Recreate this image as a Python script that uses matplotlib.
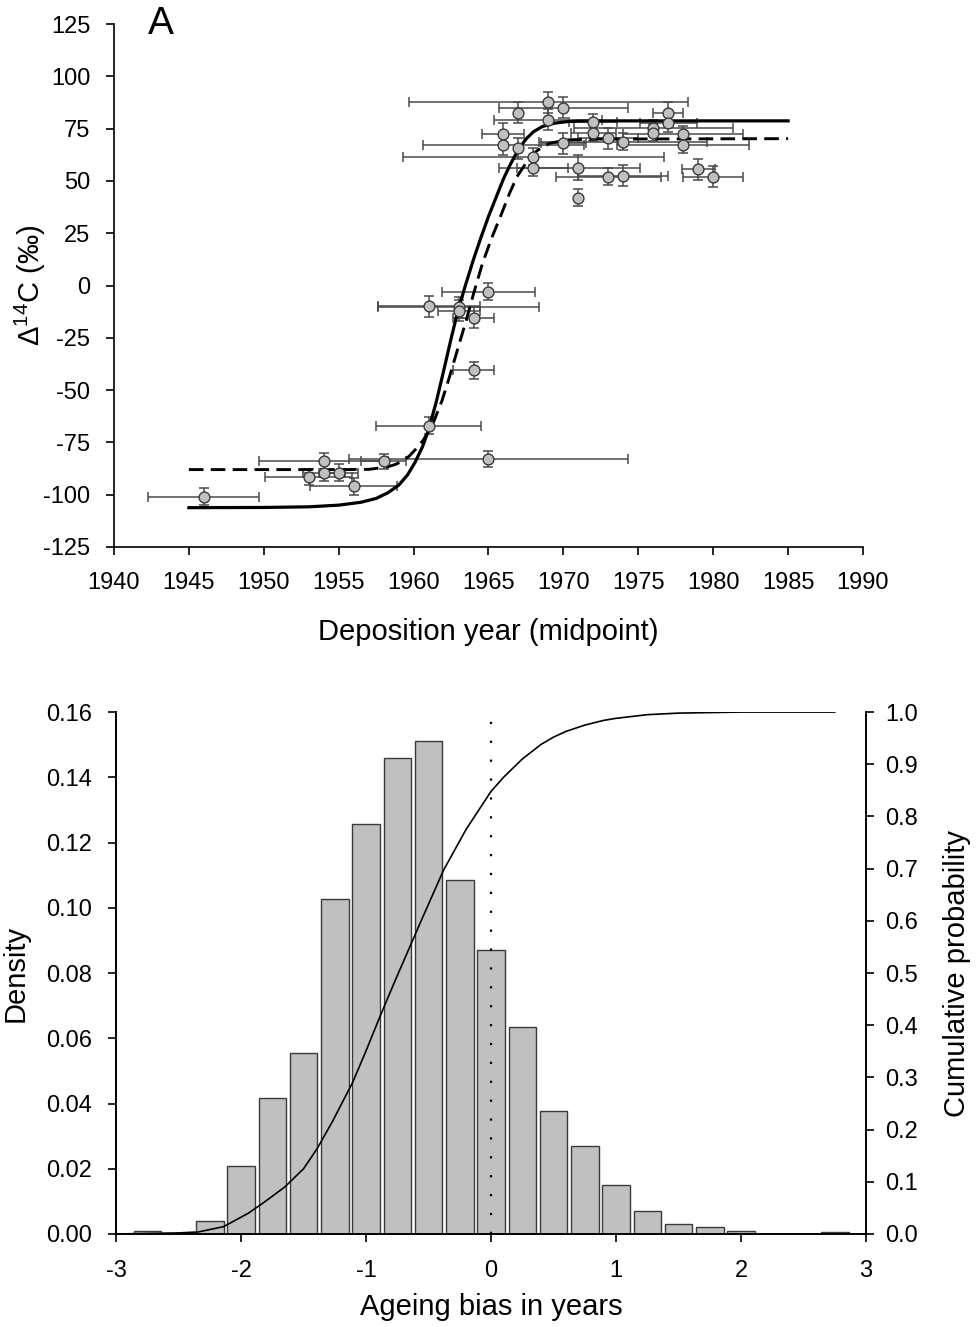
import numpy as np
import matplotlib
matplotlib.use('Agg')
import matplotlib.pyplot as plt

plt.rcParams['font.family'] = ['Liberation Sans', 'DejaVu Sans']
plt.rcParams['mathtext.fontset'] = 'custom'
plt.rcParams['mathtext.rm'] = 'Liberation Sans'
plt.rcParams['axes.unicode_minus'] = False

# --- Panel A: bomb-radiocarbon data (year, delta14C, x error, y error)
jaar = [1946, 1953, 1954, 1955, 1954, 1958, 1956, 1961, 1965, 1964, 1964, 1961, 1963, 1963, 1965,
        1969, 1970, 1967, 1969, 1972, 1977, 1977, 1976, 1976, 1966, 1972, 1978, 1973, 1974,
        1970, 1978, 1966, 1967, 1968, 1968, 1971, 1973, 1974, 1979, 1980, 1971]
d14c = [-101, -91.5, -89.5, -89.5, -84, -84, -96, -67, -83, -40.5, -15.5, -10, -10.5, -12, -3,
        87.5, 85, 82.7, 79.2, 78, 82.5, 77.5, 75.3, 73, 72.5, 73, 72.3, 70.4, 68.7,
        68, 67.2, 67.2, 65.6, 61.6, 56.3, 56.3, 52, 52.5, 55.5, 52, 42]
jaar_err = [3.7, 2.9, 1.4, 1.3, 4.3, 1.5, 2.9, 3.5, 9.3, 1.4, 1.4, 3.4, 5.4, 1.4, 3.1,
            9.3, 4.3, 0, 3.6, 1.6, 1.0, 1.9, 5.3, 0, 1.4, 1.5, 4.0, 2.0, 5.6,
            1.5, 4.4, 5.4, 0, 8.7, 2.3, 4.1, 3.5, 3.0, 1.1, 2.0, 0]
d14c_err = [4, 4, 4, 4, 4, 3.5, 4, 4, 4, 4, 5, 5, 5, 5, 4,
            5, 5, 5, 5, 4, 5, 4, 4, 4, 5, 4, 4, 5, 4,
            5, 4, 5, 5, 4, 4, 6, 4, 5, 5, 5, 4]

# fitted curves
fit1_x = [1945, 1950, 1953, 1955, 1956.5, 1957.5, 1958.3, 1959, 1959.6, 1960.1, 1960.6, 1961,
          1961.5, 1962, 1962.5, 1963, 1963.5, 1964, 1964.5, 1965, 1965.5, 1966, 1966.5, 1967,
          1967.5, 1968, 1968.6, 1969.4, 1970.2, 1971, 1973, 1985]
fit1_y = [-106.2, -106.1, -105.8, -105, -103.6, -101.8, -99, -95.5, -90.5, -84.5, -77, -69,
          -56, -41, -25.5, -11, 1, 12.5, 23, 33, 42, 51, 58.5, 65,
          70, 73.5, 76, 77.6, 78.3, 78.6, 78.7, 78.7]
fit2_x = [1945, 1955, 1957, 1958.2, 1958.8, 1959.3, 1959.7, 1960.1, 1960.65, 1961.3, 1961.9,
          1962.4, 1963, 1963.5, 1964, 1964.6, 1965.2, 1965.8, 1966.4, 1966.9, 1967.5, 1968,
          1968.6, 1969.1, 1970.2, 1972, 1985]
fit2_y = [-88, -88, -87.9, -86.8, -85.5, -83.8, -81.6, -78.6, -73.9, -65.9, -55,
          -43.6, -29, -17, -4, 10.6, 22.5, 33, 44, 52, 58.5, 63.2,
          66.2, 68, 69.6, 70, 70.2]

# --- Panel B: ageing bias histogram + cumulative probability
bias = [-2.75, -2.5, -2.25, -2.0, -1.75, -1.5, -1.25, -1.0, -0.75, -0.5, -0.25, 0.0,
        0.25, 0.5, 0.75, 1.0, 1.25, 1.5, 1.75, 2.0, 2.25, 2.5, 2.75]
dichtheid = [0.001, 0.0002, 0.004, 0.0208, 0.0417, 0.0555, 0.1027, 0.1257, 0.146, 0.1511,
             0.1085, 0.087, 0.0635, 0.0377, 0.027, 0.015, 0.007, 0.003, 0.002, 0.001,
             0.0, 0.0, 0.0006]
cum_x = [-3.0, -2.5, -2.34, -2.14, -1.94, -1.82, -1.65, -1.5, -1.39, -1.27, -1.19, -1.11,
         -1.01, -0.91, -0.83, -0.75, -0.65, -0.55, -0.38, -0.2, 0.0, 0.1, 0.25, 0.4, 0.5,
         0.6, 0.75, 0.9, 1.0, 1.25, 1.5, 1.75, 2.0, 2.75]
cum_y = [0.0, 0.002, 0.004, 0.014, 0.040, 0.060, 0.090, 0.125, 0.164, 0.215, 0.252, 0.289,
         0.345, 0.404, 0.45, 0.495, 0.55, 0.605, 0.697, 0.775, 0.848, 0.875, 0.91, 0.938, 0.952,
         0.963, 0.975, 0.984, 0.988, 0.995, 0.998, 0.999, 1.0, 1.0]

fig = plt.figure(figsize=(9.76, 13.27), dpi=100)

# Panel A
axA = fig.add_axes([0.1168, 0.5878, 0.7674, 0.3941])
axA.errorbar(jaar, d14c, xerr=jaar_err, yerr=d14c_err, fmt='none', ecolor='#4a4a4a',
             elinewidth=1.1, capsize=3.5, capthick=1.1, zorder=2)
axA.plot(fit1_x, fit1_y, '-', c='k', lw=2.3, zorder=3)
axA.plot(fit2_x, fit2_y, '--', c='k', lw=2.1, dashes=(5, 2.5), zorder=3)
axA.plot(jaar, d14c, 'o', ms=7.8, mfc='#c0c0c0', mec='#3a3a3a', mew=1.0, zorder=4)

axA.set_xlim(1940, 1990)
axA.set_ylim(-125, 125)
axA.set_xticks(np.arange(1940, 1991, 5))
axA.set_yticks(np.arange(-125, 126, 25))
axA.spines['top'].set_visible(False)
axA.spines['right'].set_visible(False)
axA.set_xlabel('Deposition year (midpoint)', fontsize=21, labelpad=17)
axA.set_ylabel('Δ$^{14}$C (‰)', fontsize=21, labelpad=-3.5)
axA.text(0.045, 1.0, 'A', transform=axA.transAxes, fontsize=28, va='center', ha='left')

# Panel B
axD = fig.add_axes([0.1189, 0.0701, 0.7684, 0.3933])
axD.bar(bias, dichtheid, width=0.22, color='#c0c0c0', edgecolor='#3a3a3a', lw=1.0, zorder=2)
axD.plot([0, 0], [0, 0.16], c='k', lw=1.6, ls=(0, (1, 7.5)), zorder=3)
axD.set_xlim(-3, 3)
axD.set_ylim(0, 0.16)
axD.set_xticks(np.arange(-3, 4, 1))
axD.set_yticks(np.arange(0, 0.161, 0.02))
axD.yaxis.set_major_formatter(plt.FormatStrFormatter('%.2f'))
axD.spines['top'].set_visible(False)
axD.set_xlabel('Ageing bias in years', fontsize=21, labelpad=8)
axD.set_ylabel('Density', fontsize=21, labelpad=12)

axC = axD.twinx()
axC.plot(cum_x, cum_y, c='k', lw=1.2, zorder=4)
axC.set_ylim(0, 1.0)
axC.set_yticks(np.arange(0, 1.01, 0.1))
axC.yaxis.set_major_formatter(plt.FormatStrFormatter('%.1f'))
axC.spines['top'].set_visible(False)
axC.set_ylabel('Cumulative probability', fontsize=21, labelpad=18)

for ax in (axA, axD, axC):
    ax.tick_params(direction='out', length=6, width=1.2, labelsize=17)
    for s in ax.spines.values():
        s.set_linewidth(1.2)
axA.tick_params(axis='x', pad=12)
axA.tick_params(axis='y', pad=11)
axD.tick_params(axis='x', pad=13)
axD.tick_params(axis='y', pad=11)
axC.tick_params(axis='y', pad=8)

plt.savefig('out.png', dpi=100)
